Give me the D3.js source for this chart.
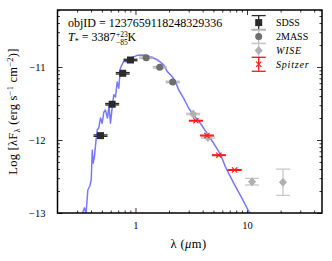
<!DOCTYPE html>
<html>
<head>
<meta charset="utf-8">
<script src="https://cdn.jsdelivr.net/npm/d3@7"></script>
<style>
  body { margin: 0; background: #fff; }
  text { font-family: "Liberation Serif", "DejaVu Serif", serif; fill: #000; }
</style>
</head>
<body>
<svg id="chart" width="332" height="261"></svg>
<script>
// photometry: wavelength (micron) and log(lambda F_lambda)
const sdssWave = [0.486, 0.618, 0.769, 0.902];
const sdssFlux = [-11.94, -11.51, -11.086, -10.904];
const sdssErr = [0.01, 0.01, 0.01, 0.01];

const tmassWave = [1.247, 1.65, 2.157];
const tmassFlux = [-10.873, -11.004, -11.205];
const tmassErr = [0.01, 0.01, 0.01];

const wiseWave = [3.29, 4.46, 11.1, 21.0];
const wiseFlux = [-11.644, -11.966, -12.571, -12.579];
const wiseErr = [0.01, 0.01, 0.045, 0.18];

const spitzerWave = [3.48, 4.37, 5.59, 7.74];
const spitzerFlux = [-11.736, -11.938, -12.208, -12.411];
const spitzerErr = [0.005, 0.005, 0.005, 0.005];

// model spectrum
const modelWave = [0.333, 0.3495, 0.3605, 0.374, 0.39, 0.401, 0.41, 0.418, 0.4295, 0.4385,
  0.454, 0.469, 0.486, 0.503, 0.52, 0.5385, 0.561, 0.579, 0.597, 0.618,
  0.639, 0.662, 0.686, 0.7085, 0.734, 0.786, 0.843, 0.902, 1.036, 1.187,
  1.362, 1.564, 1.792, 1.922, 2.131, 2.28, 2.441, 2.705, 3.0, 3.327,
  3.82, 4.385, 5.02, 5.54, 5.97, 6.39, 7.59, 9.02, 10.55, 11.1];
const modelFlux = [-13.01, -12.93, -13.01, -12.685, -12.63, -12.55, -12.14, -12.315, -12.22, -12.07,
  -11.86, -11.835, -11.70, -11.77, -11.62, -11.59, -11.70, -11.53, -11.77, -11.56,
  -11.38, -11.41, -11.205, -11.29, -11.01, -10.92, -10.93, -10.88, -10.84, -10.835,
  -10.86, -10.90, -10.97, -11.06, -11.13, -11.20, -11.315, -11.43, -11.565, -11.66,
  -11.77, -11.91, -12.045, -12.15, -12.25, -12.365, -12.59, -12.80, -13.0, -13.08];

const xDomain = [0.2, 47];
const yDomain = [-13, -10.219];
const yMajor = [-13, -12, -11];
const xMajor = [1, 10];

const svg = d3.select('#chart');
const x = d3.scaleLog().domain(xDomain).range([57.5, 322]);
const y = d3.scaleLinear().domain(yDomain).range([213, 10]);

const pLeft = x.range()[0], pRight = x.range()[1];
const pTop = y.range()[1], pBottom = y.range()[0];

svg.append('clipPath').attr('id', 'clip')
  .append('rect').attr('x', pLeft).attr('y', pTop)
  .attr('width', pRight - pLeft).attr('height', pBottom - pTop);

// minor tick values
const xMinor = [];
[0.1, 1, 10].forEach(p => {
  for (let k = 2; k <= 9; k++) xMinor.push(p * k);
});
const xMinorIn = xMinor.filter(v => v > xDomain[0] && v < xDomain[1]);
const yMinor = [];
[-13, -12, -11].forEach(n => {
  for (let k = 2; k <= 9; k++) yMinor.push(n + Math.log10(k));
});
const yMinorIn = yMinor.filter(v => v > yDomain[0] && v < yDomain[1]);

// axes (ticks point inward on all four sides)
const axes = [
  d3.axisBottom(x).tickValues(xMajor).tickSize(-5).tickFormat(d3.format('d')),
  d3.axisBottom(x).tickValues(xMinorIn).tickSize(-2.5).tickFormat(''),
  d3.axisTop(x).tickValues(xMajor).tickSize(-5).tickFormat(''),
  d3.axisTop(x).tickValues(xMinorIn).tickSize(-2.5).tickFormat(''),
];
axes.forEach((a, i) => {
  const g = svg.append('g')
    .attr('transform', `translate(0,${i < 2 ? pBottom : pTop})`)
    .call(a);
  g.select('.domain').remove();
  g.selectAll('line').attr('stroke', '#000').attr('stroke-width', 0.8);
  g.selectAll('text').attr('font-size', 10.5).attr('y', 9).attr('dy', '0.71em')
    .attr('font-family', '"Liberation Serif", serif');
});
const yAxes = [
  d3.axisLeft(y).tickValues(yMajor).tickSize(-5).tickFormat(d => '\u2212' + Math.abs(d)),
  d3.axisLeft(y).tickValues(yMinorIn).tickSize(-2.5).tickFormat(''),
  d3.axisRight(y).tickValues(yMajor).tickSize(-5).tickFormat(''),
  d3.axisRight(y).tickValues(yMinorIn).tickSize(-2.5).tickFormat(''),
];
yAxes.forEach((a, i) => {
  const g = svg.append('g')
    .attr('transform', `translate(${i < 2 ? pLeft : pRight},0)`)
    .call(a);
  g.select('.domain').remove();
  g.selectAll('line').attr('stroke', '#000').attr('stroke-width', 0.8);
  g.selectAll('text').attr('font-size', 10.5).attr('x', -12)
    .attr('font-family', '"Liberation Serif", serif');
});

// model curve
const line = d3.line().x(d => x(d[0])).y(d => y(d[1]));
svg.append('path')
  .datum(d3.zip(modelWave, modelFlux))
  .attr('clip-path', 'url(#clip)')
  .attr('d', line)
  .attr('fill', 'none')
  .attr('stroke', '#7878ff')
  .attr('stroke-width', 1.5)
  .attr('stroke-linejoin', 'round');

const cap = 7;
function errorbars(g, cx, cy, lo, hi, color) {
  g.append('line').attr('x1', cx).attr('x2', cx).attr('y1', lo).attr('y2', hi)
    .attr('stroke', color).attr('stroke-width', 1.3);
  [lo, hi].forEach(yy => g.append('line')
    .attr('x1', cx - cap).attr('x2', cx + cap).attr('y1', yy).attr('y2', yy)
    .attr('stroke', color).attr('stroke-width', 1.3));
}
function marker(g, type, cx, cy, color) {
  if (type === 'square') {
    g.append('rect').attr('x', cx - 3.5).attr('y', cy - 3.5).attr('width', 7).attr('height', 7)
      .attr('fill', color);
  } else if (type === 'circle') {
    g.append('circle').attr('cx', cx).attr('cy', cy).attr('r', 3.5).attr('fill', color);
  } else if (type === 'diamond') {
    g.append('path').attr('d', `M${cx},${cy - 4.5}L${cx + 4},${cy}L${cx},${cy + 4.5}L${cx - 4},${cy}Z`)
      .attr('fill', color);
  } else {
    g.append('path').attr('d', `M${cx - 2.6},${cy - 2.6}L${cx + 2.6},${cy + 2.6}M${cx - 2.6},${cy + 2.6}L${cx + 2.6},${cy - 2.6}`)
      .attr('stroke', color).attr('stroke-width', 1.2).attr('fill', 'none');
  }
}

const sets = [
  { name: 'SDSS', wave: sdssWave, flux: sdssFlux, err: sdssErr, type: 'square', color: '#2b2b2b', bar: '#2b2b2b' },
  { name: '2MASS', wave: tmassWave, flux: tmassFlux, err: tmassErr, type: 'circle', color: '#6e6e6e', bar: '#b4b4b4' },
  { name: 'WISE', wave: wiseWave, flux: wiseFlux, err: wiseErr, type: 'diamond', color: '#b0b0b0', bar: '#c8c8c8' },
  { name: 'Spitzer', wave: spitzerWave, flux: spitzerFlux, err: spitzerErr, type: 'x', color: '#ff1a1a', bar: '#ff1a1a' },
];

sets.forEach(s => {
  const g = svg.append('g');
  s.wave.forEach((w, i) => {
    const cx = x(w), cy = y(s.flux[i]);
    errorbars(g, cx, cy, y(s.flux[i] - s.err[i]), y(s.flux[i] + s.err[i]), s.bar);
    marker(g, s.type, cx, cy, s.color);
  });
});

// frame
svg.append('rect').attr('x', pLeft).attr('y', pTop)
  .attr('width', pRight - pLeft).attr('height', pBottom - pTop)
  .attr('fill', 'none').attr('stroke', '#000').attr('stroke-width', 1.5);

// legend
const leg = svg.append('g');
sets.forEach((s, i) => {
  const ly = 22.6 + i * 13.9;
  errorbars(leg, 258.7, ly, ly - 7, ly + 7, s.bar);
  marker(leg, s.type, 258.7, ly, s.color);
  leg.append('text').attr('x', 276).attr('y', ly + 3.5).attr('font-size', 10)
    .attr('font-style', i >= 2 ? 'italic' : 'normal')
    .attr('letter-spacing', i >= 2 ? 0.8 : 0)
    .text(s.name);
});

// annotations
svg.append('text').attr('x', 68).attr('y', 26.5).attr('font-size', 12)
  .text('objID = 1237659118248329336');
const t = svg.append('text').attr('x', 68).attr('y', 41).attr('font-size', 12);
t.append('tspan').attr('font-style', 'italic').text('T');
t.append('tspan').attr('font-size', 8).attr('dy', 2.5).text('*');
t.append('tspan').attr('dy', -2.5).text(' = 3387');
const tw = t.node().getComputedTextLength();
svg.append('text').attr('x', 68 + tw + 0.5).attr('y', 36.5).attr('font-size', 7.5).text('+23');
svg.append('text').attr('x', 68 + tw + 0.5).attr('y', 44.5).attr('font-size', 7.5).text('\u221285');
svg.append('text').attr('x', 68 + tw + 12).attr('y', 41).attr('font-size', 12).text('K');

// axis labels
const xl = svg.append('text').attr('x', 188.5).attr('y', 247.5).attr('font-size', 12.5)
  .attr('text-anchor', 'middle').attr('letter-spacing', 0.4);
xl.append('tspan').text('\u03bb (');
xl.append('tspan').attr('font-style', 'italic').text('\u03bc');
xl.append('tspan').text('m)');

const yl = svg.append('text').attr('transform', `translate(17,${(pTop + pBottom) / 2}) rotate(-90)`)
  .attr('font-size', 12.5).attr('text-anchor', 'middle').attr('letter-spacing', 0.25);
yl.append('tspan').text('Log [\u03bbF');
yl.append('tspan').attr('font-size', 8.5).attr('dy', 2.5).text('\u03bb');
yl.append('tspan').attr('dy', -2.5).text(' (erg s');
yl.append('tspan').attr('font-size', 8.5).attr('dy', -4.5).text('\u22121');
yl.append('tspan').attr('dy', 4.5).text(' cm');
yl.append('tspan').attr('font-size', 8.5).attr('dy', -4.5).text('\u22122');
yl.append('tspan').attr('dy', 4.5).text(')]');
</script>
</body>
</html>
